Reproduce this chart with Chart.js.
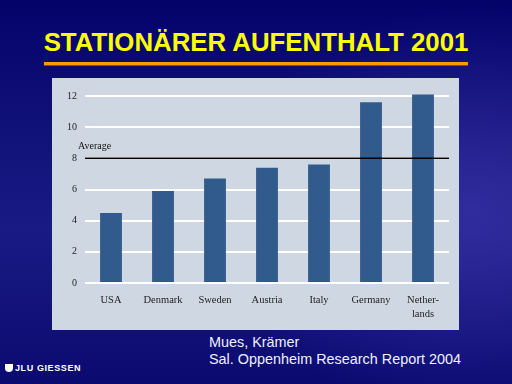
<!DOCTYPE html>
<html>
<head>
<meta charset="utf-8">
<script src="https://cdn.jsdelivr.net/npm/chart.js@4/dist/chart.umd.min.js"></script>
<style>
  html, body { margin: 0; padding: 0; }
  body {
    width: 512px; height: 384px; overflow: hidden; position: relative;
    background:
      radial-gradient(ellipse 260px 200px at 470px 210px, rgba(70,60,180,0.55), rgba(70,60,180,0) 100%),
      linear-gradient(to bottom, #03036a 0%, #15157e 45%, #1a1a84 60%, #0a0a70 100%);
    font-family: "Liberation Sans", Arial, sans-serif;
  }
  #title {
    position: absolute; left: 0; width: 512px; top: 28px; text-align: center;
    color: #ffff00; font-weight: bold; font-size: 25.8px;
  }
  #rule {
    position: absolute; left: 44px; top: 62px; width: 424px; height: 3px;
    background: #ff9900; box-shadow: 0 1px 0 #8a5200;
  }
  #panel {
    position: absolute; left: 52px; top: 78px; width: 407px; height: 252px;
    background: #cfd8e2;
  }
  #source {
    position: absolute; left: 209px; top: 334px; color: #eef0ff;
    font-size: 14.4px; line-height: 17px;
  }
  #logo {
    position: absolute; left: 5px; top: 363px; color: #ffffff;
    font-size: 9px; font-weight: bold; letter-spacing: 0.6px;
  }
  #logo span.shield {
    display: inline-block; width: 8px; height: 8px; background: #fff;
    border-radius: 0 0 4px 4px; vertical-align: -1px; margin-right: 2px;
  }
</style>
</head>
<body>
<div id="title">STATIONÄRER AUFENTHALT 2001</div>
<div id="rule"></div>
<div id="panel"><canvas id="chart" width="407" height="252"></canvas></div>
<div id="source">Mues, Krämer<br>Sal. Oppenheim Research Report 2004</div>
<div id="logo"><span class="shield"></span>JLU GIESSEN</div>
<script>
// Data (days of inpatient stay, 2001)
const countries = ['USA', 'Denmark', 'Sweden', 'Austria', 'Italy', 'Germany', ['Nether-', 'lands']];
const stayDays = [4.5, 5.9, 6.7, 7.4, 7.6, 11.6, 12.1];
const averageValue = 8;
const averageLabel = 'Average';

// Draw the horizontal average line over the bars
const averageLine = {
  id: 'averageLine',
  afterDatasetsDraw(chart) {
    const { ctx, chartArea, scales } = chart;
    const y = scales.y.getPixelForValue(averageValue);
    ctx.save();
    ctx.strokeStyle = '#000';
    ctx.lineWidth = 1.5;
    ctx.beginPath();
    ctx.moveTo(chartArea.left, y);
    ctx.lineTo(chartArea.right, y);
    ctx.stroke();
    ctx.fillStyle = '#111';
    ctx.font = '10px "Liberation Serif", "Times New Roman", serif';
    ctx.textBaseline = 'bottom';
    ctx.textAlign = 'left';
    ctx.fillText(averageLabel, chartArea.left - 7, y - 7);
    ctx.restore();
  }
};

new Chart(document.getElementById('chart'), {
  type: 'bar',
  data: {
    labels: countries,
    datasets: [{
      data: stayDays,
      backgroundColor: '#315b8d',
      barPercentage: 0.42,
      categoryPercentage: 1,
      clip: false
    }]
  },
  options: {
    responsive: false,
    animation: false,
    layout: { padding: { left: 0, right: 10, top: 18, bottom: 0 } },
    plugins: { legend: { display: false }, tooltip: { enabled: false } },
    scales: {
      x: {
        grid: { display: false, drawTicks: false },
        border: { display: false },
        ticks: {
          color: '#222',
          padding: 10,
          maxRotation: 0,
          autoSkip: false,
          font: { family: '"Liberation Serif", "Times New Roman", serif', size: 10.5, lineHeight: 1.35 }
        },
        afterFit(scale) { scale.height = 47; }
      },
      y: {
        min: 0,
        max: 12,
        grid: { color: '#ffffff', lineWidth: 2, drawTicks: false },
        border: { display: false },
        ticks: {
          stepSize: 2,
          color: '#222',
          padding: 8,
          font: { family: '"Liberation Serif", "Times New Roman", serif', size: 10 }
        },
        afterFit(scale) { scale.width = 33; }
      }
    }
  },
  plugins: [averageLine]
});
</script>
</body>
</html>
